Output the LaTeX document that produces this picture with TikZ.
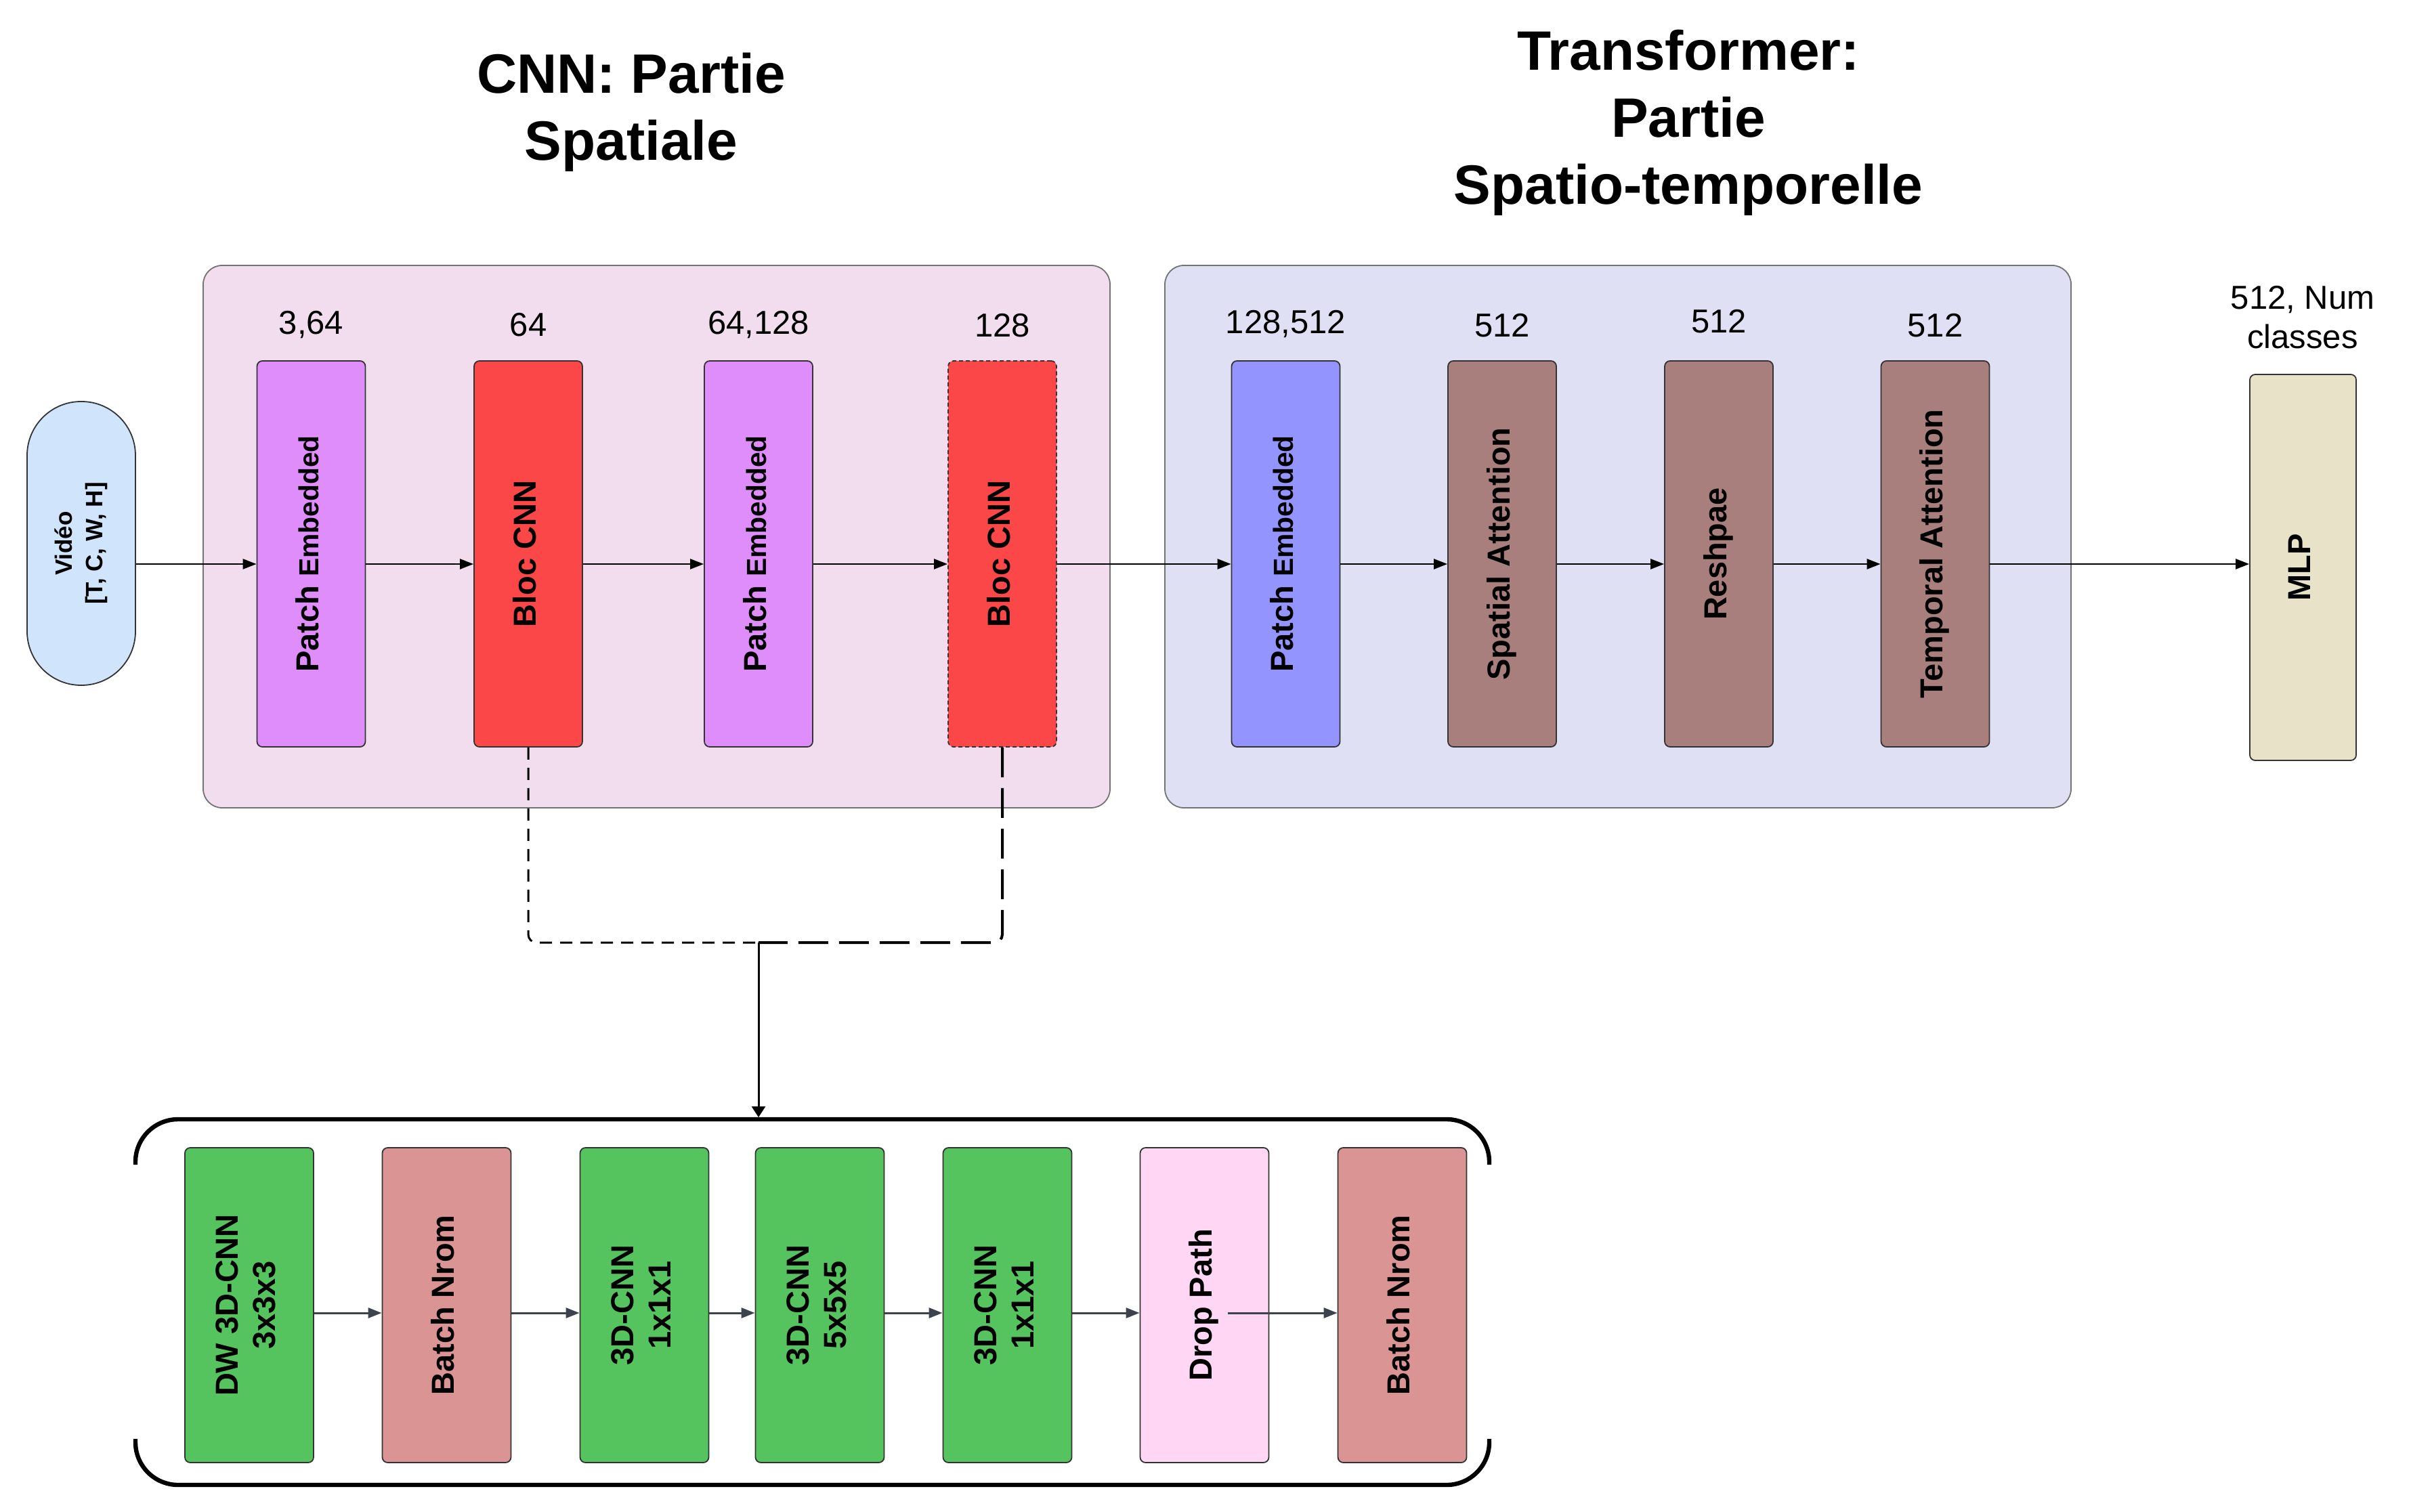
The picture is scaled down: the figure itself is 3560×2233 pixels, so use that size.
\documentclass[tikz,border=0pt]{standalone}
\usepackage{fontspec}
\setmainfont{Liberation Sans}
\usepackage{graphicx}
\usetikzlibrary{arrows.meta}
\definecolor{cnnbg}{HTML}{F2DDEE}
\definecolor{trbg}{HTML}{E0E0F4}
\definecolor{pemb}{HTML}{E08DFC}
\definecolor{bred}{HTML}{FB4747}
\definecolor{pblue}{HTML}{9494FF}
\definecolor{attbrown}{HTML}{A87F7C}
\definecolor{mlpc}{HTML}{E8E2C9}
\definecolor{vidc}{HTML}{D0E4FC}
\definecolor{gcnn}{HTML}{55C45F}
\definecolor{bnc}{HTML}{DB9494}
\definecolor{dpc}{HTML}{FFD7F5}
\definecolor{arrc}{HTML}{3C434E}
\definecolor{strk}{HTML}{333333}
\newcommand\ml[1]{\begin{tabular}[t]{@{}c@{}}#1\end{tabular}}
\newcommand\patchemb{Patch {\fontsize{10.2}{13.75}\selectfont Embedded}}
\begin{document}
\begin{tikzpicture}[x=0.25pt,y=-0.25pt,
  container/.style={draw=black!55, line width=0.45pt, rounded corners=7pt, inner sep=0pt},
  blk/.style={draw=strk, line width=0.45pt, rounded corners=2pt, inner sep=0pt,
    minimum width=40pt, minimum height=142.5pt, font=\bfseries\fontsize{11.75}{13.75}\selectfont},
  subblk/.style={blk, minimum width=47.5pt, minimum height=116.25pt},
  numlab/.style={font=\fontsize{12.25}{14.5}\selectfont, anchor=base, inner sep=0pt},
  titlelab/.style={font=\bfseries\fontsize{20.5}{24.75}\selectfont, anchor=base, inner sep=0pt},
  arr/.style={draw=black, line width=0.6pt, -{Triangle[length=5pt,width=3.75pt]}},
  subarr/.style={draw=arrc, line width=0.75pt, -{Triangle[length=5pt,width=3.75pt]}},
  bracketline/.style={draw=black, line width=1.6pt, rounded corners=15.75pt}
]
\useasboundingbox (0,0) rectangle (3560,2233);

% titles
\node[titlelab] (t1) at (932,138) {\ml{CNN: Partie\\Spatiale}};
\node[titlelab] (t2) at (2493,104) {\ml{Transformer:\\Partie\\Spatio-temporelle}};

% containers
\node[container, fill=cnnbg, minimum width=334.75pt, minimum height=200.25pt] (cnn) at (969.5,792.5) {};
\node[container, fill=trbg, minimum width=334.5pt, minimum height=200.25pt] (tr) at (2389,792.5) {};

% numbers
\node[numlab] (n1) at (459.5,494) {3,64};
\node[numlab] (n2) at (780,497) {64};
\node[numlab] (n3) at (1120,494) {64,128};
\node[numlab] (n4) at (1480,498) {128};
\node[numlab] (n5) at (1898.5,493) {128,512};
\node[numlab] (n6) at (2218,498) {512};
\node[numlab] (n7) at (2538,492) {512};
\node[numlab] (n8) at (2857.5,498) {512};
\node[numlab] (n9) at (3400,457) {\ml{512, Num\\classes}};

% input
\node[draw=strk, line width=0.45pt, fill=vidc, rounded corners=19.9pt, minimum width=40pt,
  minimum height=104.75pt, inner sep=0pt, font=\bfseries\fontsize{8.75}{11.25}\selectfont]
  (vid) at (120,802.5) {\rotatebox{90}{\ml{Vidéo\\{[}T, C, W, H{]}}}};

% main row
\node[blk, fill=pemb] (pe1) at (459.5,818) {\rotatebox{90}{\ml{\patchemb}}};
\node[blk, fill=bred] (bc1) at (780,818) {\rotatebox{90}{\ml{Bloc CNN}}};
\node[blk, fill=pemb] (pe2) at (1120,818) {\rotatebox{90}{\ml{\patchemb}}};
\node[blk, fill=bred, dash pattern=on 1.5pt off 1pt] (bc2) at (1480,818) {\rotatebox{90}{\ml{Bloc CNN}}};
\node[blk, fill=pblue] (pe3) at (1898.5,818) {\rotatebox{90}{\ml{\patchemb}}};
\node[blk, fill=attbrown] (sa) at (2218,818) {\rotatebox{90}{\ml{Spatial Attention}}};
\node[blk, fill=attbrown] (rs) at (2538,818) {\rotatebox{90}{\ml{Reshpae}}};
\node[blk, fill=attbrown] (ta) at (2857.5,818) {\rotatebox{90}{\ml{Temporal Attention}}};
\node[blk, fill=mlpc, minimum width=39.25pt] (mlp) at (3400.5,838) {\rotatebox{90}{\ml{MLP}}};

\coordinate (rowy) at (0,833);
\draw[arr] (vid.east |- rowy) -- (pe1.west |- rowy);
\draw[arr] (pe1.east |- rowy) -- (bc1.west |- rowy);
\draw[arr] (bc1.east |- rowy) -- (pe2.west |- rowy);
\draw[arr] (pe2.east |- rowy) -- (bc2.west |- rowy);
\draw[arr] (bc2.east |- rowy) -- (pe3.west |- rowy);
\draw[arr] (pe3.east |- rowy) -- (sa.west |- rowy);
\draw[arr] (sa.east |- rowy) -- (rs.west |- rowy);
\draw[arr] (rs.east |- rowy) -- (ta.west |- rowy);
\draw[arr] (ta.east |- rowy) -- (mlp.west |- rowy);

% bottom block
\draw[bracketline] (200,1720) -- (200,1653) -- (2199,1653) -- (2199,1720);
\draw[bracketline] (200,2125) -- (200,2193) -- (2199,2193) -- (2199,2125);
\coordinate (brtop) at (1120,1650);

\node[subblk, fill=gcnn] (dw) at (368,1927.5) {\rotatebox{90}{\ml{DW 3D-CNN\\3x3x3}}};
\node[subblk, fill=bnc] (bn1) at (659.5,1927.5) {\rotatebox{90}{\ml{Batch Nrom}}};
\node[subblk, fill=gcnn] (ca) at (951.5,1927.5) {\rotatebox{90}{\ml{3D-CNN\\1x1x1}}};
\node[subblk, fill=gcnn] (cb) at (1210.5,1927.5) {\rotatebox{90}{\ml{3D-CNN\\5x5x5}}};
\node[subblk, fill=gcnn] (cc) at (1487.5,1927.5) {\rotatebox{90}{\ml{3D-CNN\\1x1x1}}};
\node[subblk, fill=dpc] (dp) at (1778.5,1927.5) {\rotatebox{90}{\ml{Drop Path}}};
\node[subblk, fill=bnc] (bn2) at (2070.5,1927.5) {\rotatebox{90}{\ml{Batch Nrom}}};

\coordinate (brow) at (0,1939);
\coordinate (dpout) at ([xshift=8.6pt]dp.center);
\draw[subarr] (dw.east |- brow) -- (bn1.west |- brow);
\draw[subarr] (bn1.east |- brow) -- (ca.west |- brow);
\draw[subarr] (ca.east |- brow) -- (cb.west |- brow);
\draw[subarr] (cb.east |- brow) -- (cc.west |- brow);
\draw[subarr] (cc.east |- brow) -- (dp.west |- brow);
\draw[subarr] (dpout |- brow) -- (bn2.west |- brow);

% dashed links
\coordinate (merge) at (1120,1392);
\draw[line width=0.75pt, dash pattern=on 4.5pt off 3pt, rounded corners=3pt] (bc1.south) |- (merge);
\draw[line width=1pt, dash pattern=on 11pt off 4pt, rounded corners=3pt] (bc2.south) |- (merge);
\draw[line width=0.75pt, -{Triangle[length=4pt,width=5pt]}] (merge) -- (brtop);
\end{tikzpicture}
\end{document}
